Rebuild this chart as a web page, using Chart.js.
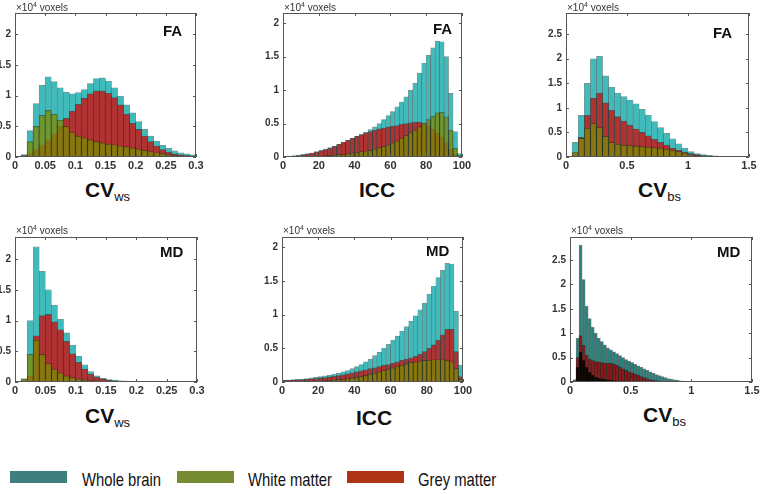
<!DOCTYPE html>
<html>
<head>
<meta charset="utf-8">
<script src="https://cdn.jsdelivr.net/npm/chart.js@4.4.0/dist/chart.umd.min.js"></script>
<style>
  body { margin: 0; width: 760px; height: 494px; background: #fff; position: relative; overflow: hidden;
         font-family: "Liberation Sans", Arial, Helvetica, sans-serif; color: #111; }
  canvas { position: absolute; }
  .txt { position: absolute; white-space: nowrap; }
  .unit { font-size: 10px; line-height: 10px; color: #333; }
  .unit sup { font-size: 7px; vertical-align: 4px; line-height: 0; }
  .tag { font-size: 15px; line-height: 15px; font-weight: bold; }
  .xlab { font-size: 21px; line-height: 21px; font-weight: bold; }
  .xlab span { font-size: 13px; font-weight: normal; position: relative; top: 4px; }
  .sw { position: absolute; width: 57px; height: 12px; }
  .leg { font-size: 19px; line-height: 19px; transform: scaleX(0.78); transform-origin: 0 0; }
</style>
</head>
<body>
<script>
// histogram bins (bin centres from bin width)
function centers(width, n) {
  return Array.from({length: n}, (_, i) => +((i + 0.5) * width).toFixed(5));
}
const cvwsBins = centers(0.01, 30);
const iccBins = centers(2.5, 40);
const cvbsBins = centers(0.05, 30);
const cvbsFineBins = centers(0.025, 41);

// counts in units of 10^4 voxels
// FA - CVws
const faCvwsWhole = [0, 0.04, 0.43, 0.87, 1.17, 1.31, 1.23, 1.13, 1.06, 1.03, 1.05, 1.1, 1.2, 1.28, 1.29, 1.24, 1.13, 0.99, 0.85, 0.72, 0.58, 0.45, 0.34, 0.26, 0.19, 0.14, 0.1, 0.07, 0.05, 0.035];
const faCvwsWhite = [0, 0.03, 0.25, 0.5, 0.68, 0.76, 0.7, 0.6, 0.5, 0.4, 0.34, 0.31, 0.28, 0.25, 0.23, 0.21, 0.2, 0.18, 0.17, 0.15, 0.13, 0.11, 0.09, 0.07, 0.055, 0.04, 0.03, 0.02, 0.015, 0.01];
const faCvwsGrey = [0, 0, 0.05, 0.12, 0.2, 0.28, 0.38, 0.5, 0.63, 0.75, 0.86, 0.96, 1.03, 1.08, 1.08, 1.04, 0.97, 0.85, 0.7, 0.55, 0.45, 0.34, 0.25, 0.18, 0.12, 0.08, 0.05, 0.035, 0.025, 0.02];

// FA - ICC
const faIccWhole = [0.01, 0.015, 0.02, 0.03, 0.04, 0.05, 0.06, 0.08, 0.1, 0.12, 0.14, 0.16, 0.19, 0.22, 0.25, 0.28, 0.31, 0.34, 0.37, 0.41, 0.45, 0.5, 0.56, 0.62, 0.68, 0.75, 0.82, 0.9, 1.0, 1.1, 1.25, 1.4, 1.52, 1.63, 1.73, 1.72, 1.5, 0.95, 0.38, 0.05];
const faIccWhite = [0, 0, 0, 0, 0.005, 0.005, 0.01, 0.01, 0.015, 0.02, 0.025, 0.03, 0.035, 0.04, 0.05, 0.06, 0.07, 0.08, 0.09, 0.1, 0.12, 0.14, 0.16, 0.18, 0.21, 0.24, 0.28, 0.32, 0.36, 0.4, 0.45, 0.5, 0.56, 0.61, 0.66, 0.67, 0.6, 0.4, 0.13, 0.02];
const faIccGrey = [0.005, 0.01, 0.015, 0.02, 0.03, 0.04, 0.06, 0.075, 0.09, 0.11, 0.13, 0.16, 0.19, 0.22, 0.25, 0.28, 0.31, 0.33, 0.36, 0.38, 0.4, 0.42, 0.43, 0.45, 0.46, 0.47, 0.49, 0.5, 0.51, 0.52, 0.52, 0.5, 0.47, 0.42, 0.36, 0.3, 0.22, 0.12, 0.04, 0.01];

// FA - CVbs
const faCvbsWhole = [0, 0.3, 0.85, 1.5, 2.0, 2.05, 1.65, 1.42, 1.3, 1.23, 1.16, 1.08, 0.97, 0.85, 0.72, 0.6, 0.48, 0.37, 0.27, 0.18, 0.11, 0.07, 0.05, 0.035, 0.025, 0.015, 0.01, 0.005, 0, 0];
const faCvbsWhite = [0, 0.1, 0.38, 0.58, 0.68, 0.6, 0.42, 0.3, 0.26, 0.24, 0.23, 0.22, 0.21, 0.2, 0.19, 0.18, 0.16, 0.14, 0.11, 0.08, 0.05, 0.03, 0.02, 0.01, 0.005, 0, 0, 0, 0, 0];
const faCvbsGrey = [0, 0.07, 0.4, 0.85, 1.2, 1.3, 1.1, 0.95, 0.82, 0.73, 0.65, 0.57, 0.5, 0.43, 0.36, 0.3, 0.24, 0.18, 0.14, 0.1, 0.07, 0.05, 0.03, 0.02, 0.01, 0.005, 0, 0, 0, 0];

// MD - CVws
const mdCvwsWhole = [0, 0.05, 1.0, 2.2, 1.8, 1.5, 1.25, 1.02, 0.8, 0.6, 0.42, 0.28, 0.17, 0.1, 0.06, 0.04, 0.03, 0.02, 0.015, 0.01, 0.005, 0, 0, 0, 0, 0, 0, 0, 0, 0];
const mdCvwsWhite = [0, 0.05, 0.45, 0.68, 0.45, 0.3, 0.21, 0.15, 0.1, 0.07, 0.05, 0.035, 0.025, 0.015, 0.01, 0.005, 0, 0, 0, 0, 0, 0, 0, 0, 0, 0, 0, 0, 0, 0];
const mdCvwsGrey = [0, 0, 0.1, 0.75, 1.08, 1.1, 0.98, 0.85, 0.66, 0.46, 0.32, 0.21, 0.13, 0.08, 0.05, 0.03, 0.02, 0.015, 0.01, 0.005, 0, 0, 0, 0, 0, 0, 0, 0, 0, 0];

// MD - ICC
const mdIccWhole = [0.03, 0.03, 0.035, 0.04, 0.045, 0.05, 0.06, 0.07, 0.08, 0.09, 0.1, 0.115, 0.13, 0.15, 0.17, 0.2, 0.23, 0.26, 0.3, 0.34, 0.39, 0.44, 0.5, 0.56, 0.62, 0.68, 0.75, 0.82, 0.9, 0.98, 1.07, 1.17, 1.3, 1.42, 1.55, 1.66, 1.76, 1.75, 1.05, 0.25];
const mdIccWhite = [0, 0, 0, 0, 0, 0.005, 0.005, 0.01, 0.015, 0.02, 0.025, 0.03, 0.035, 0.04, 0.05, 0.06, 0.07, 0.085, 0.1, 0.115, 0.13, 0.15, 0.17, 0.19, 0.21, 0.23, 0.25, 0.27, 0.29, 0.3, 0.31, 0.32, 0.325, 0.33, 0.33, 0.33, 0.32, 0.3, 0.2, 0.04];
const mdIccGrey = [0.025, 0.025, 0.03, 0.03, 0.035, 0.04, 0.045, 0.05, 0.06, 0.065, 0.075, 0.085, 0.095, 0.105, 0.12, 0.135, 0.15, 0.165, 0.18, 0.2, 0.21, 0.23, 0.25, 0.26, 0.28, 0.3, 0.32, 0.34, 0.36, 0.38, 0.41, 0.45, 0.5, 0.55, 0.62, 0.7, 0.78, 0.78, 0.45, 0.08];

// MD - CVbs
const mdCvbsWhole = [0, 0.05, 0.9, 2.8, 2.1, 1.55, 1.3, 1.12, 1.0, 0.9, 0.83, 0.76, 0.7, 0.66, 0.62, 0.58, 0.54, 0.5, 0.46, 0.43, 0.4, 0.36, 0.33, 0.3, 0.27, 0.24, 0.21, 0.18, 0.15, 0.13, 0.11, 0.09, 0.07, 0.055, 0.045, 0.035, 0.025, 0.02, 0.015, 0.01, 0.005];
const mdCvbsWhite = [0, 0.02, 0.3, 0.62, 0.45, 0.3, 0.2, 0.14, 0.1, 0.08, 0.065, 0.055, 0.045, 0.035, 0.03, 0.025, 0.02, 0.015, 0.01, 0.005, 0, 0, 0, 0, 0, 0, 0, 0, 0, 0, 0, 0, 0, 0, 0, 0, 0, 0, 0, 0, 0];
const mdCvbsGrey = [0, 0.02, 0.5, 0.95, 0.75, 0.55, 0.47, 0.44, 0.42, 0.41, 0.4, 0.39, 0.385, 0.38, 0.37, 0.34, 0.3, 0.27, 0.24, 0.21, 0.19, 0.16, 0.14, 0.11, 0.09, 0.07, 0.05, 0.04, 0.03, 0.02, 0.01, 0.005, 0, 0, 0, 0, 0, 0, 0, 0, 0];

const PAD_L = 22, PAD_T = 6, PAD_R = 12, PAD_B = 18;

const normal = {whole: 'rgb(63,187,187)', grey: 'rgba(180,45,45,0.96)', white: 'rgba(128,138,5,0.76)', edge: 'rgba(0,30,30,0.5)'};
const dark = {whole: 'rgb(40,128,122)', grey: 'rgb(138,26,26)', white: 'rgb(6,6,0)', edge: 'rgba(0,0,0,0.5)'};

const panels = [
  {l: 15, t: 13, w: 181, h: 144, bins: cvwsBins, xMax: 0.3, xStep: 0.05, yMax: 2.35, yStep: 0.5, series: [faCvwsWhole, faCvwsWhite, faCvwsGrey], pal: normal},
  {l: 283, t: 13, w: 179, h: 144, bins: iccBins, xMax: 100, xStep: 20, yMax: 2.15, yStep: 0.5, series: [faIccWhole, faIccWhite, faIccGrey], pal: normal},
  {l: 566, t: 13, w: 183, h: 144, bins: cvbsBins, xMax: 1.5, xStep: 0.5, yMax: 2.93, yStep: 0.5, series: [faCvbsWhole, faCvbsWhite, faCvbsGrey], pal: normal},
  {l: 15, t: 237, w: 182, h: 145, bins: cvwsBins, xMax: 0.3, xStep: 0.05, yMax: 2.36, yStep: 0.5, series: [mdCvwsWhole, mdCvwsWhite, mdCvwsGrey], pal: normal},
  {l: 282, t: 237, w: 181, h: 145, bins: iccBins, xMax: 100, xStep: 20, yMax: 2.15, yStep: 0.5, series: [mdIccWhole, mdIccWhite, mdIccGrey], pal: normal},
  {l: 570, t: 237, w: 182, h: 145, bins: cvbsFineBins, xMax: 1.5, xStep: 0.5, yMax: 2.97, yStep: 0.5, series: [mdCvbsWhole, mdCvbsWhite, mdCvbsGrey], pal: dark}
];

// matlab style box with inward ticks
const boxPlugin = {
  id: 'box',
  afterDatasetsDraw(chart) {
    const {ctx, chartArea: a, scales: {x, y}} = chart;
    ctx.save();
    ctx.strokeStyle = '#555';
    ctx.lineWidth = 1;
    ctx.strokeRect(Math.round(a.left) + 0.5, Math.round(a.top) + 0.5, Math.round(a.width) - 1, Math.round(a.height) - 1);
    ctx.beginPath();
    x.ticks.forEach(t => {
      const px = Math.round(x.getPixelForValue(t.value)) + 0.5;
      ctx.moveTo(px, a.bottom); ctx.lineTo(px, a.bottom - 3);
      ctx.moveTo(px, a.top); ctx.lineTo(px, a.top + 3);
    });
    y.ticks.forEach(t => {
      const py = Math.round(y.getPixelForValue(t.value)) + 0.5;
      ctx.moveTo(a.left, py); ctx.lineTo(a.left + 3, py);
      ctx.moveTo(a.right, py); ctx.lineTo(a.right - 3, py);
    });
    ctx.stroke();
    ctx.restore();
  }
};

function histSet(label, xs, ys, fill, edge, order) {
  return {
    label: label,
    order: order,
    data: xs.map((x, i) => ({x: x, y: ys[i]})),
    backgroundColor: fill,
    borderColor: edge,
    borderWidth: 0.7,
    barPercentage: 1,
    categoryPercentage: 1,
    grouped: false
  };
}

const xFont = {family: '"Liberation Sans", Arial, sans-serif', size: 11, weight: 'bold'};
const yFont = {family: '"Liberation Sans", Arial, sans-serif', size: 10, weight: 'bold'};
const fmt = (v) => String(+Number(v).toFixed(3));

panels.forEach((p) => {
  const canvas = document.createElement('canvas');
  const cw = p.w + PAD_L + PAD_R, ch = p.h + PAD_T + PAD_B;
  canvas.width = cw; canvas.height = ch;
  canvas.style.left = (p.l - PAD_L) + 'px';
  canvas.style.top = (p.t - PAD_T) + 'px';
  canvas.style.width = cw + 'px'; canvas.style.height = ch + 'px';
  document.body.appendChild(canvas);

  new Chart(canvas, {
    type: 'bar',
    data: {
      datasets: [
        histSet('White matter', p.bins, p.series[1], p.pal.white, p.pal.edge, 0),
        histSet('Grey matter', p.bins, p.series[2], p.pal.grey, p.pal.edge, 1),
        histSet('Whole brain', p.bins, p.series[0], p.pal.whole, p.pal.edge, 2)
      ]
    },
    options: {
      responsive: false,
      animation: false,
      devicePixelRatio: 1,
      layout: {padding: {top: PAD_T, right: PAD_R, left: 0, bottom: 0}},
      plugins: {legend: {display: false}, tooltip: {enabled: false}},
      scales: {
        x: {
          type: 'linear', min: 0, max: p.xMax, offset: false,
          grid: {display: false, drawTicks: false}, border: {display: false},
          ticks: {stepSize: p.xStep, includeBounds: false, autoSkip: false, maxRotation: 0, padding: 2, color: '#333', font: xFont, callback: fmt},
          afterFit: (s) => { s.height = PAD_B; s.paddingLeft = 0; s.paddingRight = 0; }
        },
        y: {
          min: 0, max: p.yMax,
          grid: {display: false, drawTicks: false}, border: {display: false},
          ticks: {stepSize: p.yStep, includeBounds: false, padding: 4, color: '#333', font: yFont, callback: fmt},
          afterFit: (s) => { s.width = PAD_L; s.paddingTop = 0; s.paddingBottom = 0; }
        }
      }
    },
    plugins: [boxPlugin]
  });
});

// text overlays
function addText(cls, html, left, top) {
  const d = document.createElement('div');
  d.className = 'txt ' + cls;
  d.innerHTML = html;
  d.style.left = left + 'px';
  d.style.top = top + 'px';
  document.body.appendChild(d);
}

const unitText = '×10<sup>4</sup> voxels';
[[16, 3], [284, 3], [567, 3], [16, 226], [283, 226], [571, 226]].forEach(([l, t]) => addText('unit', unitText, l, t));

addText('tag', 'FA', 163, 23);
addText('tag', 'FA', 433, 21);
addText('tag', 'FA', 713, 25);
addText('tag', 'MD', 160, 244);
addText('tag', 'MD', 426, 243);
addText('tag', 'MD', 717, 244);

addText('xlab', 'CV<span>ws</span>', 85, 179);
addText('xlab', 'ICC', 359, 179);
addText('xlab', 'CV<span>bs</span>', 638, 179);
addText('xlab', 'CV<span>ws</span>', 85, 405);
addText('xlab', 'ICC', 356, 407);
addText('xlab', 'CV<span>bs</span>', 643, 404);

// legend
const legendNames = ['Whole brain', 'White matter', 'Grey matter'];
const legendColors = ['#3e7f7c', '#778b30', '#ad3416'];
const legendSwatchX = [10, 177, 347];
const legendTextX = [82, 248, 418];
legendNames.forEach((name, i) => {
  const s = document.createElement('div');
  s.className = 'sw';
  s.style.left = legendSwatchX[i] + 'px';
  s.style.top = '471px';
  s.style.background = legendColors[i];
  document.body.appendChild(s);
  addText('leg', name, legendTextX[i], 470);
});
</script>
</body>
</html>
